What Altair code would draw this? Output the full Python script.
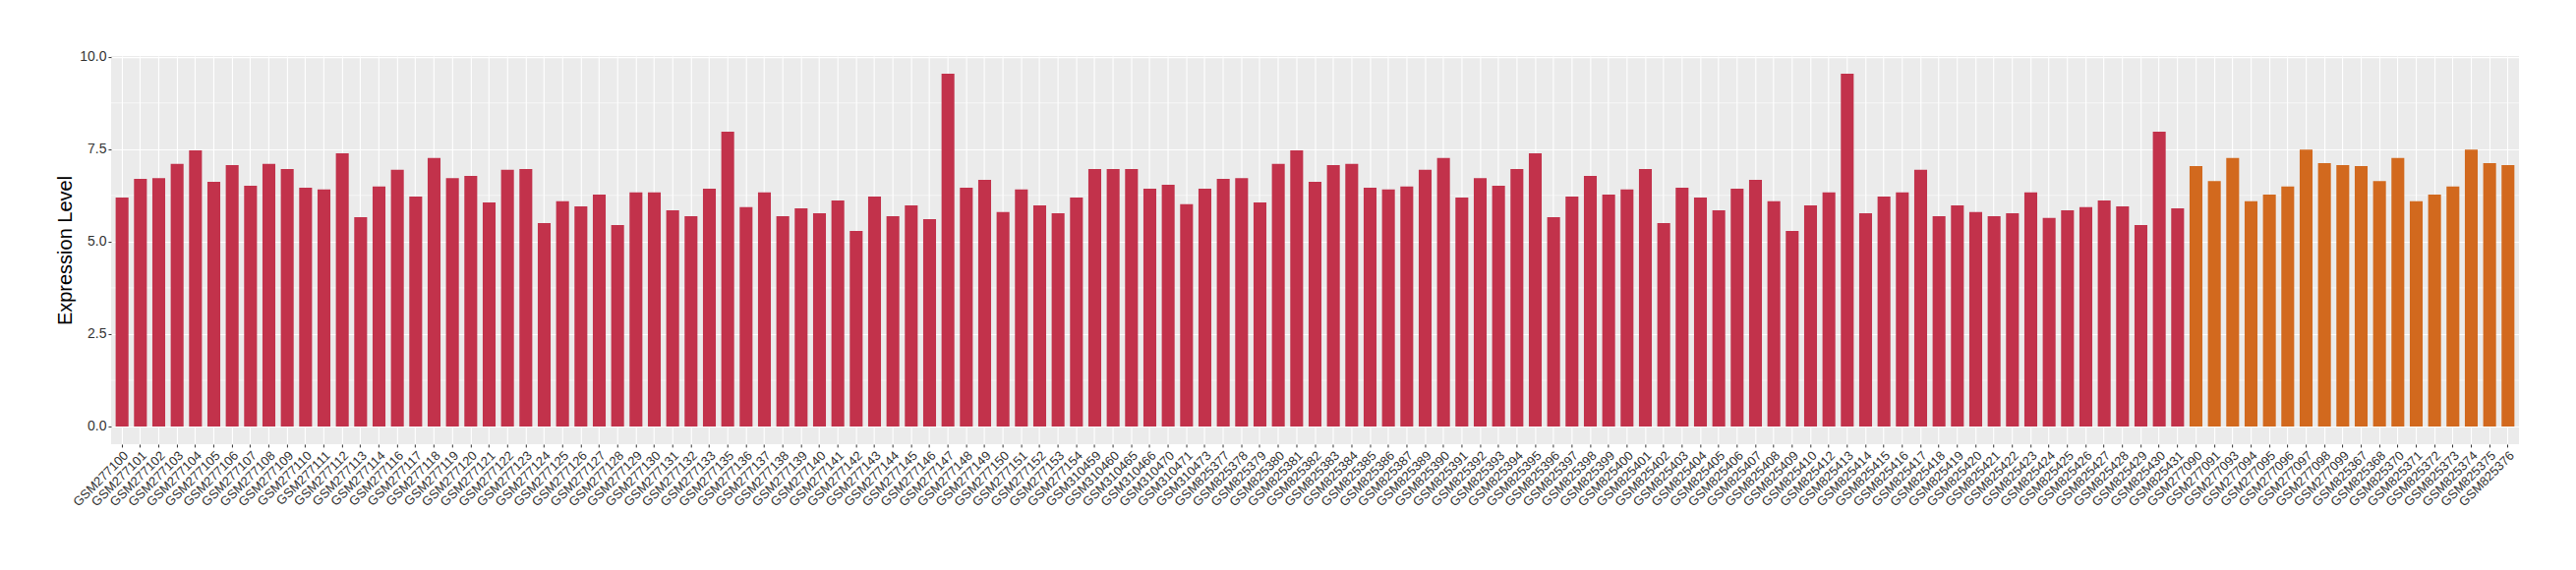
import altair as alt
import pandas as pd

red_samples = [
    "GSM277100", "GSM277101", "GSM277102", "GSM277103", "GSM277104", "GSM277105", "GSM277106",
    "GSM277107", "GSM277108", "GSM277109", "GSM277110", "GSM277111", "GSM277112", "GSM277113",
    "GSM277114", "GSM277116", "GSM277117", "GSM277118", "GSM277119", "GSM277120", "GSM277121",
    "GSM277122", "GSM277123", "GSM277124", "GSM277125", "GSM277126", "GSM277127", "GSM277128",
    "GSM277129", "GSM277130", "GSM277131", "GSM277132", "GSM277133", "GSM277135", "GSM277136",
    "GSM277137", "GSM277138", "GSM277139", "GSM277140", "GSM277141", "GSM277142", "GSM277143",
    "GSM277144", "GSM277145", "GSM277146", "GSM277147", "GSM277148", "GSM277149", "GSM277150",
    "GSM277151", "GSM277152", "GSM277153", "GSM277154",
    "GSM310459", "GSM310460", "GSM310465", "GSM310466", "GSM310470", "GSM310471", "GSM310473",
    "GSM825377", "GSM825378", "GSM825379", "GSM825380", "GSM825381", "GSM825382", "GSM825383",
    "GSM825384", "GSM825385", "GSM825386", "GSM825387", "GSM825389", "GSM825390", "GSM825391",
    "GSM825392", "GSM825393", "GSM825394", "GSM825395", "GSM825396", "GSM825397", "GSM825398",
    "GSM825399", "GSM825400", "GSM825401", "GSM825402", "GSM825403", "GSM825404", "GSM825405",
    "GSM825406", "GSM825407", "GSM825408", "GSM825409", "GSM825410", "GSM825412", "GSM825413",
    "GSM825414", "GSM825415", "GSM825416", "GSM825417", "GSM825418", "GSM825419", "GSM825420",
    "GSM825421", "GSM825422", "GSM825423", "GSM825424", "GSM825425", "GSM825426", "GSM825427",
    "GSM825428", "GSM825429", "GSM825430", "GSM825431",
]
red_values = [
    6.19, 6.70, 6.72, 7.10, 7.47, 6.62, 7.07, 6.51, 7.10, 6.96,
    6.46, 6.41, 7.39, 5.66, 6.49, 6.94, 6.22, 7.26, 6.72, 6.78,
    6.06, 6.94, 6.96, 5.50, 6.09, 5.95, 6.27, 5.45, 6.33, 6.33,
    5.85, 5.69, 6.43, 7.97, 5.93, 6.33, 5.69, 5.90, 5.77, 6.11,
    5.29, 6.22, 5.69, 5.98, 5.61, 9.54, 6.46, 6.67, 5.80, 6.41,
    5.98, 5.77, 6.19, 6.96, 6.96, 6.96, 6.43, 6.54, 6.01, 6.43,
    6.70, 6.72, 6.06, 7.10, 7.47, 6.62, 7.07, 7.10, 6.46, 6.41,
    6.49, 6.94, 7.26, 6.19, 6.72, 6.51, 6.96, 7.39, 5.66, 6.22,
    6.78, 6.27, 6.41, 6.96, 5.50, 6.46, 6.19, 5.85, 6.43, 6.67,
    6.09, 5.29, 5.98, 6.33, 9.54, 5.77, 6.22, 6.33, 6.94, 5.69,
    5.98, 5.80, 5.69, 5.77, 6.33, 5.64, 5.85, 5.93, 6.11, 5.95,
    5.45, 7.97, 5.90,
]
orange_samples = [
    "GSM277090", "GSM277091", "GSM277093", "GSM277094", "GSM277095", "GSM277096",
    "GSM277097", "GSM277098", "GSM277099",
    "GSM825367", "GSM825368", "GSM825370", "GSM825371", "GSM825372", "GSM825373",
    "GSM825374", "GSM825375", "GSM825376",
]
orange_values = [
    7.04, 6.64, 7.26, 6.09, 6.27, 6.49, 7.49, 7.12, 7.07,
    7.04, 6.64, 7.26, 6.09, 6.27, 6.49, 7.49, 7.12, 7.07,
]
group_names = ["red", "orange"]
group_colors = ["#C2324B", "#D2691E"]
y_ticks = [0, 2.5, 5, 7.5, 10]
y_minor = [1.25, 3.75, 6.25, 8.75]
y_range = [-0.477, 10.017]

df = pd.DataFrame({
    "sample": red_samples + orange_samples,
    "value": red_values + orange_values,
    "group": [group_names[0]] * len(red_samples) + [group_names[1]] * len(orange_samples),
})
minor_df = pd.DataFrame({"y": y_minor})

font = "Liberation Sans"
yscale = alt.Scale(domain=y_range, nice=False, zero=False)

minor = alt.Chart(minor_df).mark_rule(color="white", strokeWidth=0.6).encode(
    y=alt.Y("y:Q", scale=yscale)
)

bars = alt.Chart(df).mark_bar().encode(
    x=alt.X(
        "sample:N", sort=None, title=None,
        scale=alt.Scale(paddingInner=0.3, paddingOuter=0.25),
        axis=alt.Axis(
            labelAngle=-45, labelAlign="right", labelBaseline="top",
            labelOverlap=False, labelFontSize=13, labelColor="#333333",
            labelFont=font, tickColor="#333333", tickSize=3, labelPadding=2,
            grid=True, gridColor="white", gridWidth=1.1, bandPosition=0.5,
            domain=False,
        ),
    ),
    y=alt.Y(
        "value:Q", scale=yscale, title="Expression Level",
        axis=alt.Axis(
            values=y_ticks, format=".1f", labelFontSize=14, labelColor="#333333",
            labelFont=font, tickColor="#333333", tickSize=3, labelPadding=2,
            grid=True, gridColor="white", gridWidth=1.1, domain=False,
            titleFont=font, titleFontSize=20, titleFontWeight="normal",
            titleColor="black", titlePadding=4,
        ),
    ),
    y2=alt.datum(0),
    color=alt.Color(
        "group:N", legend=None,
        scale=alt.Scale(domain=group_names, range=group_colors),
    ),
)

chart = alt.layer(minor, bars).properties(
    width=2450, height=395,
    autosize=alt.AutoSizeParams(type="none"),
    padding={"left": 105, "top": 49, "right": 50, "bottom": 120},
).configure_view(fill="#EBEBEB", strokeWidth=0)

chart.save("out.html", embed_options={"renderer": "svg", "actions": False})
